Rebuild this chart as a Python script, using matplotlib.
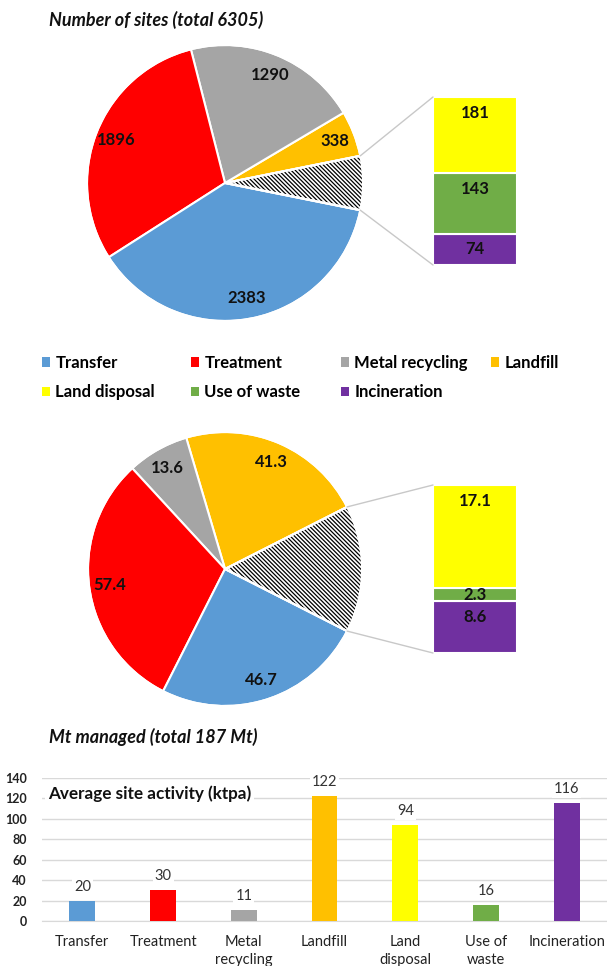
import numpy as np
import matplotlib
matplotlib.use("Agg")
import matplotlib.pyplot as plt
from matplotlib.patches import ConnectionPatch, Patch

plt.rcParams['font.family'] = ['Lato', 'DejaVu Sans']
plt.rcParams['hatch.linewidth'] = 0.9

# ---------------- data ----------------
categories = ["Transfer", "Treatment", "Metal recycling", "Landfill",
              "Land disposal", "Use of waste", "Incineration"]
colors = ["#5B9BD5", "#FF0000", "#A5A5A5", "#FFC000", "#FFFF00", "#70AD47", "#7030A0"]

sites_main = [2383, 1896, 1290, 338]          # Transfer, Treatment, Metal, Landfill
sites_other = [181, 143, 74]                  # Land disposal, Use of waste, Incineration

mt_main = [46.7, 57.4, 13.6, 41.3]
mt_other = [17.1, 2.3, 8.6]

bar_labels = ["Transfer", "Treatment", "Metal\nrecycling", "Landfill",
              "Land\ndisposal", "Use of\nwaste", "Incineration"]
activity = [20, 30, 11, 122, 94, 16, 116]
yticks = [0, 20, 40, 60, 80, 100, 120, 140]

title1 = "Number of sites (total 6305)"
title2 = "Mt managed (total 187 Mt)"
title3 = "Average site activity (ktpa)"

W, H = 607, 966
fig = plt.figure(figsize=(W / 100, H / 100), dpi=100)


def px_axes(x0, y0, x1, y1):
    return fig.add_axes([x0 / W, 1 - y1 / H, (x1 - x0) / W, (y1 - y0) / H])


def bar_of_pie(ax_pie, ax_bar, main, other, fmt):
    other_total = sum(other)
    # order counter-clockwise starting from the hatched "other" wedge
    vals = [other_total, main[3], main[2], main[1], main[0]]
    cols = ["white", colors[3], colors[2], colors[1], colors[0]]
    total = sum(vals)
    half = other_total / total * 360 / 2
    wedges, _ = ax_pie.pie(vals, colors=cols, startangle=-half, counterclock=True,
                           radius=1.0,
                           wedgeprops=dict(edgecolor="white", linewidth=1.5))
    wedges[0].set_hatch("\\" * 8)
    wedges[0].set_edgecolor("black")
    wedges[0].set_linewidth(0)
    # white outline on top of hatched wedge
    ax_pie.pie([other_total, total - other_total], startangle=-half, counterclock=True,
               radius=1.0, colors=["none", "none"],
               wedgeprops=dict(edgecolor="white", linewidth=1.5, fill=False))
    labels = [None, main[3], main[2], main[1], main[0]]
    for w, lab in zip(wedges, labels):
        if lab is None:
            continue
        ang = np.deg2rad((w.theta1 + w.theta2) / 2)
        ax_pie.text(0.85 * np.cos(ang), 0.85 * np.sin(ang), fmt(lab),
                    ha="center", va="center", fontsize=12, fontweight="bold",
                    color="#111111")
    ax_pie.set_xlim(-1, 1)
    ax_pie.set_ylim(-1, 1)
    ax_pie.set_aspect("equal")
    ax_pie.axis("off")

    # stacked bar: land disposal on top, use of waste, incineration at bottom
    stack = [other[2], other[1], other[0]]
    scol = [colors[6], colors[5], colors[4]]
    bottom = 0
    lab_off = 0.095 * other_total
    for v, c in zip(stack, scol):
        ax_bar.bar(0, v, bottom=bottom, width=1.0, color=c, edgecolor="white", linewidth=1.5)
        top = bottom + v
        ly = top - min(v / 2, lab_off)
        ax_bar.text(0, ly, fmt(v), ha="center", va="center", fontsize=12,
                    fontweight="bold", color="#111111")
        bottom = top
    ax_bar.set_xlim(-0.5, 0.5)
    ax_bar.set_ylim(0, other_total)
    ax_bar.axis("off")

    # connector lines from wedge edges to bar corners
    for ang_deg, ybar in [(wedges[0].theta2, other_total), (wedges[0].theta1, 0)]:
        a = np.deg2rad(ang_deg)
        con = ConnectionPatch(xyA=(np.cos(a), np.sin(a)), coordsA=ax_pie.transData,
                              xyB=(-0.5, ybar), coordsB=ax_bar.transData,
                              color="#C8C8C8", linewidth=1.0)
        fig.add_artist(con)


fmt_int = lambda v: f"{v:d}"
fmt_f1 = lambda v: f"{v:.1f}"

ax_p1 = px_axes(87, 45, 363, 321)
ax_b1 = px_axes(433, 97, 517, 265)
bar_of_pie(ax_p1, ax_b1, sites_main, sites_other, fmt_int)

ax_p2 = px_axes(88, 432, 362, 706)
ax_b2 = px_axes(433, 485, 517, 653)
bar_of_pie(ax_p2, ax_b2, mt_main, mt_other, fmt_f1)

fig.text(49 / W, 1 - 20 / H, title1, fontsize=13, fontweight="bold", fontstyle="italic",
         ha="left", va="center", color="#111111")
fig.text(49 / W, 1 - 737 / H, title2, fontsize=13, fontweight="bold", fontstyle="italic",
         ha="left", va="center", color="#111111")

# legend: per-column legends
col_x = [42, 191, 341, 491]
cols_idx = [[0, 4], [1, 5], [2, 6], [3]]
for x, idxs in zip(col_x, cols_idx):
    handles = [Patch(facecolor=colors[i], edgecolor="none") for i in idxs]
    labs = [categories[i] for i in idxs]
    fig.legend(handles, labs, loc="upper left", bbox_to_anchor=(x / W, 1 - 355 / H),
               frameon=False, prop=dict(size=12, weight="bold"),
               handlelength=0.5, handleheight=0.5, handletextpad=0.3,
               labelspacing=0.8, borderpad=0, borderaxespad=0)

# bar chart
ax = px_axes(42, 778, 607, 921)
xpos = np.arange(len(activity))
bars = ax.bar(xpos, activity, width=0.32, color=colors, zorder=3)
for xb, v in zip(xpos, activity):
    ax.annotate(f"{v}", (xb, v), xytext=(0, 5), textcoords="offset points",
                ha="center", va="bottom", fontsize=10.5, color="#333333",
                bbox=dict(facecolor="white", edgecolor="none", pad=1.5), zorder=4)
ax.set_xlim(-0.5, len(activity) - 0.5)
ax.set_ylim(0, 140)
ax.set_yticks(yticks)
ax.set_yticklabels([str(t) for t in yticks], fontsize=9, fontweight="bold", color="#222222")
ax.set_xticks(xpos)
ax.set_xticklabels(bar_labels, fontsize=10.5, color="#222222", linespacing=1.4)
ax.tick_params(axis="both", length=0)
ax.tick_params(axis="x", pad=10)
ax.tick_params(axis="y", pad=11)
ax.grid(axis="y", color="#D9D9D9", linewidth=1.0, zorder=0)
for s in ["top", "right", "left"]:
    ax.spines[s].set_visible(False)
ax.spines["bottom"].set_color("#D9D9D9")
ax.spines["bottom"].set_zorder(1)
ax.text(6 / 565, 1 - 16 / 143, title3, transform=ax.transAxes, fontsize=12.3,
        fontweight="bold", color="#111111", ha="left", va="center",
        bbox=dict(facecolor="white", edgecolor="none", pad=2), zorder=5)

fig.savefig("out.png", dpi=100)
